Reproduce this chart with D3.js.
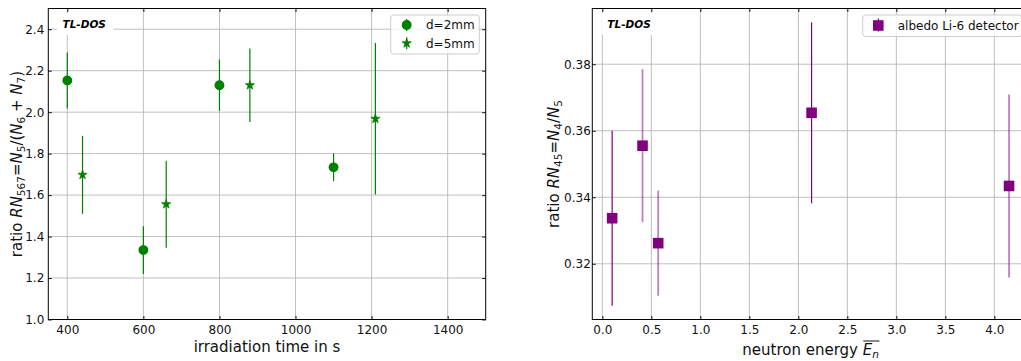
<!DOCTYPE html>
<html>
<head>
<meta charset="utf-8">
<script src="https://cdn.jsdelivr.net/npm/d3@7"></script>
<style>
  body { margin: 0; background: #fff; }
  svg { display: block; font-family: "DejaVu Sans", sans-serif; }
</style>
</head>
<body>
<svg id="fig" width="1021" height="361"></svg>
<script>
// ---- ratio RN567 versus irradiation time ----
const times2mm = [400, 600, 800, 1100];
const ratio2mm = [2.153, 1.335, 2.130, 1.734];
const err2mm   = [0.135, 0.115, 0.124, 0.067];

const times5mm = [440, 660, 880, 1210];
const ratio5mm = [1.698, 1.556, 2.130, 1.968];
const err5mm   = [0.188, 0.210, 0.177, 0.365];

const timeTicks  = [400, 600, 800, 1000, 1200, 1400];
const ratio567Ticks = [1.0, 1.2, 1.4, 1.6, 1.8, 2.0, 2.2, 2.4];
const timeLimits = [350, 1500];
const ratio567Limits = [1.0, 2.5];

// ---- ratio RN45 versus mean neutron energy ----
const energies = [0.10, 0.41, 0.57, 2.135, 4.15];
const ratio45  = [0.3337, 0.3555, 0.3262, 0.3654, 0.3434];
const err45    = [0.0263, 0.0230, 0.0158, 0.0272, 0.0275];

const energyTicks  = [0.0, 0.5, 1.0, 1.5, 2.0, 2.5, 3.0, 3.5, 4.0];
const ratio45Ticks = [0.32, 0.34, 0.36, 0.38];
const energyLimits = [-0.1025, 4.3525];
const ratio45Limits = [0.30325, 0.39675];

// error bars drawn with a lighter stroke
const lightBars = new Set([1, 2, 4]);

const GREEN = "#008000";
const PURPLE = "#800080";
const FONT = "DejaVu Sans";

const svg = d3.select("#fig");

// ----- shared panel builder: grid, inward ticks on all four sides, frame -----
function panel(x, y, xTicks, yTicks, xFmt, yFmt, yPad) {
  const [xl, xr] = x.range();
  const [yb, yt] = y.range();
  const g = svg.append("g");

  const grid = g.append("g").attr("stroke", "#b0b0b0").attr("stroke-width", 0.8);
  grid.selectAll("line.v").data(xTicks).join("line").attr("class", "v")
    .attr("x1", d => x(d)).attr("x2", d => x(d)).attr("y1", yt).attr("y2", yb);
  grid.selectAll("line.h").data(yTicks).join("line").attr("class", "h")
    .attr("y1", d => y(d)).attr("y2", d => y(d)).attr("x1", xl).attr("x2", xr);

  const style = sel => {
    sel.select(".domain").remove();
    sel.attr("font-family", FONT).attr("font-size", 12);
    sel.selectAll(".tick line").attr("stroke-width", 0.9);
    sel.selectAll(".tick text").attr("fill", "#111");
  };

  g.append("g").attr("transform", `translate(0,${yb})`)
    .call(d3.axisBottom(x).tickValues(xTicks).tickFormat(xFmt).tickSize(-3.5).tickPadding(6))
    .call(style);
  g.append("g").attr("transform", `translate(0,${yt})`)
    .call(d3.axisTop(x).tickValues(xTicks).tickFormat("").tickSize(-3.5))
    .call(style);
  g.append("g").attr("transform", `translate(${xl},0)`)
    .call(d3.axisLeft(y).tickValues(yTicks).tickFormat(yFmt).tickSize(-3.5).tickPadding(yPad))
    .call(style);
  g.append("g").attr("transform", `translate(${xr},0)`)
    .call(d3.axisRight(y).tickValues(yTicks).tickFormat("").tickSize(-3.5))
    .call(style);

  g.append("rect")
    .attr("x", xl).attr("y", yt).attr("width", xr - xl).attr("height", yb - yt)
    .attr("fill", "none").attr("stroke", "#000").attr("stroke-width", 1);
  return g;
}

// "TL-DOS" tag with a white box behind it
function tag(g, x0, baseline) {
  const box = g.append("rect").attr("fill", "#fff");
  const t = g.append("text")
    .attr("x", x0).attr("y", baseline)
    .attr("font-family", FONT).attr("font-size", 10.5)
    .attr("font-weight", "bold").attr("font-style", "italic")
    .attr("fill", "#000").text("TL-DOS");
  const b = t.node().getBBox();
  box.attr("x", b.x - 5.5).attr("y", baseline - 14.5)
    .attr("width", b.width + 13).attr("height", 22);
}

// rich label pieces: [text, italic, subscript]
function richText(sel, parts, size) {
  const subSize = size * 0.7, shift = size * 0.22;
  let down = false;
  parts.forEach(([s, it, sub]) => {
    const ts = sel.append("tspan").text(s);
    if (it) ts.attr("font-style", "italic");
    if (sub) {
      ts.attr("font-size", subSize);
      if (!down) { ts.attr("dy", shift); down = true; }
    } else if (down) {
      ts.attr("dy", -shift); down = false;
    }
  });
}

function legendBox(g, x0, y0, w, h) {
  g.append("rect")
    .attr("x", x0).attr("y", y0).attr("width", w).attr("height", h)
    .attr("rx", 3).attr("ry", 3)
    .attr("fill", "#fff").attr("fill-opacity", 0.8)
    .attr("stroke", "#cccccc").attr("stroke-width", 1);
}

// ================= left panel =================
const xL = d3.scaleLinear().domain(timeLimits).range([48.3, 485.7]);
const yL = d3.scaleLinear().domain(ratio567Limits).range([319.5, 8.5]);
const gL = panel(xL, yL, timeTicks, ratio567Ticks, d3.format("d"), d3.format(".1f"), 4);

const circle = d3.symbol().type(d3.symbolCircle).size(76);
const star = d3.symbol().type(d3.symbolStar).size(26);

const s2 = times2mm.map((t, i) => ({ x: t, y: ratio2mm[i], e: err2mm[i] }));
const s5 = times5mm.map((t, i) => ({ x: t, y: ratio5mm[i], e: err5mm[i] }));

const dataL = gL.append("g");
[s2, s5].forEach(s => {
  dataL.append("g").selectAll("line").data(s).join("line")
    .attr("x1", d => xL(d.x)).attr("x2", d => xL(d.x))
    .attr("y1", d => yL(d.y - d.e)).attr("y2", d => yL(d.y + d.e))
    .attr("stroke", GREEN).attr("stroke-width", 1.2);
});
dataL.append("g").selectAll("path").data(s2).join("path")
  .attr("transform", d => `translate(${xL(d.x)},${yL(d.y)})`)
  .attr("d", circle).attr("fill", GREEN);
dataL.append("g").selectAll("path").data(s5).join("path")
  .attr("transform", d => `translate(${xL(d.x)},${yL(d.y)})`)
  .attr("d", star).attr("fill", GREEN).attr("stroke", GREEN).attr("stroke-width", 0.8);

tag(gL, 62.5, 27.5);

// legend
const legL = gL.append("g");
legendBox(legL, 390.7, 15, 88.6, 39);
[["d=2mm", circle, 25], ["d=5mm", star, 43.3]].forEach(([lab, sym, cy]) => {
  legL.append("line").attr("x1", 406.7).attr("x2", 406.7)
    .attr("y1", cy - 6).attr("y2", cy + 6)
    .attr("stroke", GREEN).attr("stroke-width", 1.2);
  legL.append("path").attr("transform", `translate(406.7,${cy})`)
    .attr("d", sym).attr("fill", GREEN).attr("stroke", GREEN)
    .attr("stroke-width", sym === star ? 0.8 : 0);
  legL.append("text").attr("x", 426).attr("y", cy + 4.3)
    .attr("font-family", FONT).attr("font-size", 12).attr("fill", "#111").text(lab);
});

// axis titles
svg.append("text")
  .attr("x", (xL.range()[0] + xL.range()[1]) / 2).attr("y", 352)
  .attr("text-anchor", "middle").attr("font-family", FONT).attr("font-size", 15)
  .attr("fill", "#111").text("irradiation time in s");

const ylabL = svg.append("text")
  .attr("transform", `translate(21.5,${(yL.range()[0] + yL.range()[1]) / 2}) rotate(-90)`)
  .attr("text-anchor", "middle").attr("font-family", FONT).attr("font-size", 15).attr("fill", "#111");
richText(ylabL, [
  ["ratio ", false, false], ["RN", true, false], ["567", false, true],
  ["=", false, false], ["N", true, false], ["5", false, true],
  ["/(", false, false], ["N", true, false], ["6", false, true],
  [" + ", false, false], ["N", true, false], ["7", false, true],
  [")", false, false]
], 15);

// ================= right panel =================
const xR = d3.scaleLinear().domain(energyLimits).range([592.3, 1028.9]);
const yR = d3.scaleLinear().domain(ratio45Limits).range([319.5, 8.5]);
const gR = panel(xR, yR, energyTicks, ratio45Ticks, d3.format(".1f"), d3.format(".2f"), 1.5);

const square = d3.symbol().type(d3.symbolSquare).size(112);
const sR = energies.map((e, i) => ({ x: e, y: ratio45[i], e: err45[i], light: lightBars.has(i) }));

const dataR = gR.append("g");
dataR.append("g").selectAll("line").data(sR).join("line")
  .attr("x1", d => xR(d.x)).attr("x2", d => xR(d.x))
  .attr("y1", d => yR(d.y - d.e)).attr("y2", d => yR(d.y + d.e))
  .attr("stroke", PURPLE)
  .attr("stroke-width", d => d.light ? 1.8 : 1.2)
  .attr("stroke-opacity", d => d.light ? 0.5 : 1);
dataR.append("g").selectAll("path").data(sR).join("path")
  .attr("transform", d => `translate(${xR(d.x)},${yR(d.y)})`)
  .attr("d", square).attr("fill", PURPLE);

tag(gR, 607.3, 27.5);

const legR = gR.append("g");
legendBox(legR, 862.7, 15, 159, 21.5);
legR.append("line").attr("x1", 878.3).attr("x2", 878.3)
  .attr("y1", 18.5).attr("y2", 31.5)
  .attr("stroke", PURPLE).attr("stroke-width", 1.2);
legR.append("path").attr("transform", "translate(878.3,25.5)")
  .attr("d", square).attr("fill", PURPLE);
legR.append("text").attr("x", 897.7).attr("y", 29.5)
  .attr("font-family", FONT).attr("font-size", 12).attr("fill", "#111")
  .text("albedo Li-6 detector");

const xlabR = svg.append("text")
  .attr("x", (xR.range()[0] + xR.range()[1]) / 2).attr("y", 355)
  .attr("text-anchor", "middle").attr("font-family", FONT).attr("font-size", 15).attr("fill", "#111");
richText(xlabR, [["neutron energy ", false, false], ["E", true, false], ["n", true, true]], 15);
{
  const node = xlabR.node();
  const n = node.getNumberOfChars();
  const a = node.getStartPositionOfChar(n - 2).x;
  const b = node.getEndPositionOfChar(n - 1).x;
  svg.append("line").attr("x1", a + 0.5).attr("x2", b + 0.5)
    .attr("y1", 341).attr("y2", 341)
    .attr("stroke", "#111").attr("stroke-width", 1);
}

const ylabR = svg.append("text")
  .attr("transform", `translate(559,${(yR.range()[0] + yR.range()[1]) / 2}) rotate(-90)`)
  .attr("text-anchor", "middle").attr("font-family", FONT).attr("font-size", 15).attr("fill", "#111");
richText(ylabR, [
  ["ratio ", false, false], ["RN", true, false], ["45", false, true],
  ["=", false, false], ["N", true, false], ["4", false, true],
  ["/", false, false], ["N", true, false], ["5", false, true]
], 15);
</script>
</body>
</html>
